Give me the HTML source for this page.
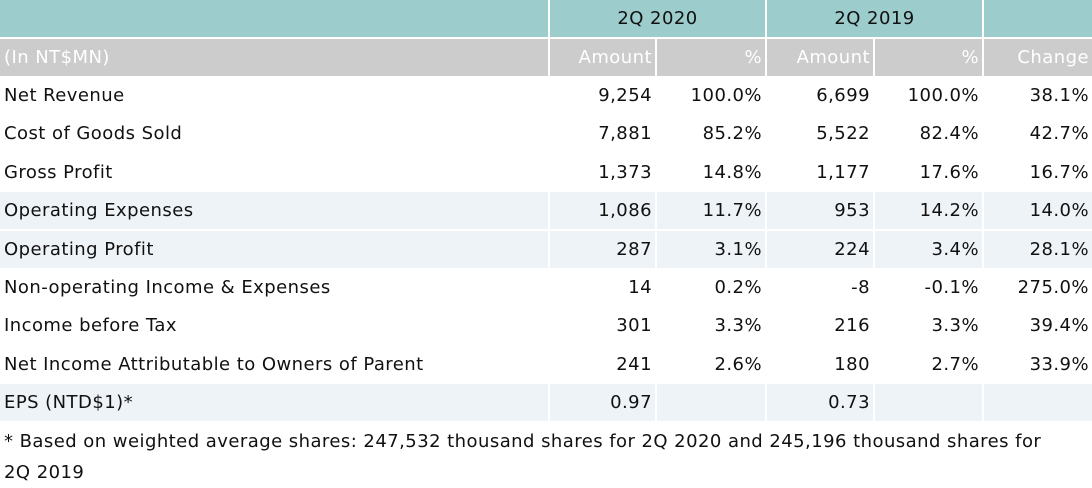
<!DOCTYPE html>
<html><head><meta charset="utf-8"><style>
body{margin:0;width:1092px;height:487px;background:#fff;font-family:"DejaVu Sans","Liberation Sans",sans-serif;font-size:18px;letter-spacing:0.45px;color:#111;overflow:hidden;position:relative}
.c{position:absolute;box-sizing:border-box;white-space:nowrap;display:flex;align-items:center}
.r{justify-content:flex-end;padding-right:3px}
.l{padding-left:4px}
.m{justify-content:center}
.t{background:#9ccccc}
.g{background:#cccccc;color:#fff}
.s{background:#eef3f8}
.foot{position:absolute;left:4px;top:426px;width:1060px;line-height:31px}
</style></head><body>
<div id="root"></div>
<div class="foot">* Based on weighted average shares: 247,532 thousand shares for 2Q 2020 and 245,196 thousand shares for 2Q 2019</div>
<script>
var cols=[[0,548],[550,655],[657,765],[767,873],[875,982],[984,1092]];
var html='';
function cell(ci,y,h,cls,txt){var c=cols[ci];html+='<div class="c '+cls+'" style="left:'+c[0]+'px;top:'+y+'px;width:'+(c[1]-c[0])+'px;height:'+h+'px">'+txt+'</div>';}
html+='<div class="c t" style="left:0;top:0;width:548px;height:37px"></div>';
html+='<div class="c t m" style="left:550px;top:0;width:215px;height:37px">2Q 2020</div>';
html+='<div class="c t m" style="left:767px;top:0;width:215px;height:37px">2Q 2019</div>';
html+='<div class="c t" style="left:984px;top:0;width:108px;height:37px"></div>';
var h2=['(In NT$MN)','Amount','%','Amount','%','Change'];
for(var i=0;i<6;i++)cell(i,39,37,'g '+(i?'r':'l'),h2[i]);
var rows=[
['Net Revenue','9,254','100.0%','6,699','100.0%','38.1%',0],
['Cost of Goods Sold','7,881','85.2%','5,522','82.4%','42.7%',0],
['Gross Profit','1,373','14.8%','1,177','17.6%','16.7%',0],
['Operating Expenses','1,086','11.7%','953','14.2%','14.0%',1],
['Operating Profit','287','3.1%','224','3.4%','28.1%',1],
['Non-operating Income &amp; Expenses','14','0.2%','-8','-0.1%','275.0%',0],
['Income before Tax','301','3.3%','216','3.3%','39.4%',0],
['Net Income Attributable to Owners of Parent','241','2.6%','180','2.7%','33.9%',0],
['EPS (NTD$1)*','0.97','','0.73','','',1]];
var ys=[77,115,154,192,231,269,307,346,384];
for(var j=0;j<rows.length;j++){var r=rows[j];for(var i=0;i<6;i++)cell(i,ys[j],37,(r[6]?'s ':'')+(i?'r':'l'),r[i]);}
document.getElementById('root').innerHTML=html;
</script>
</body></html>
